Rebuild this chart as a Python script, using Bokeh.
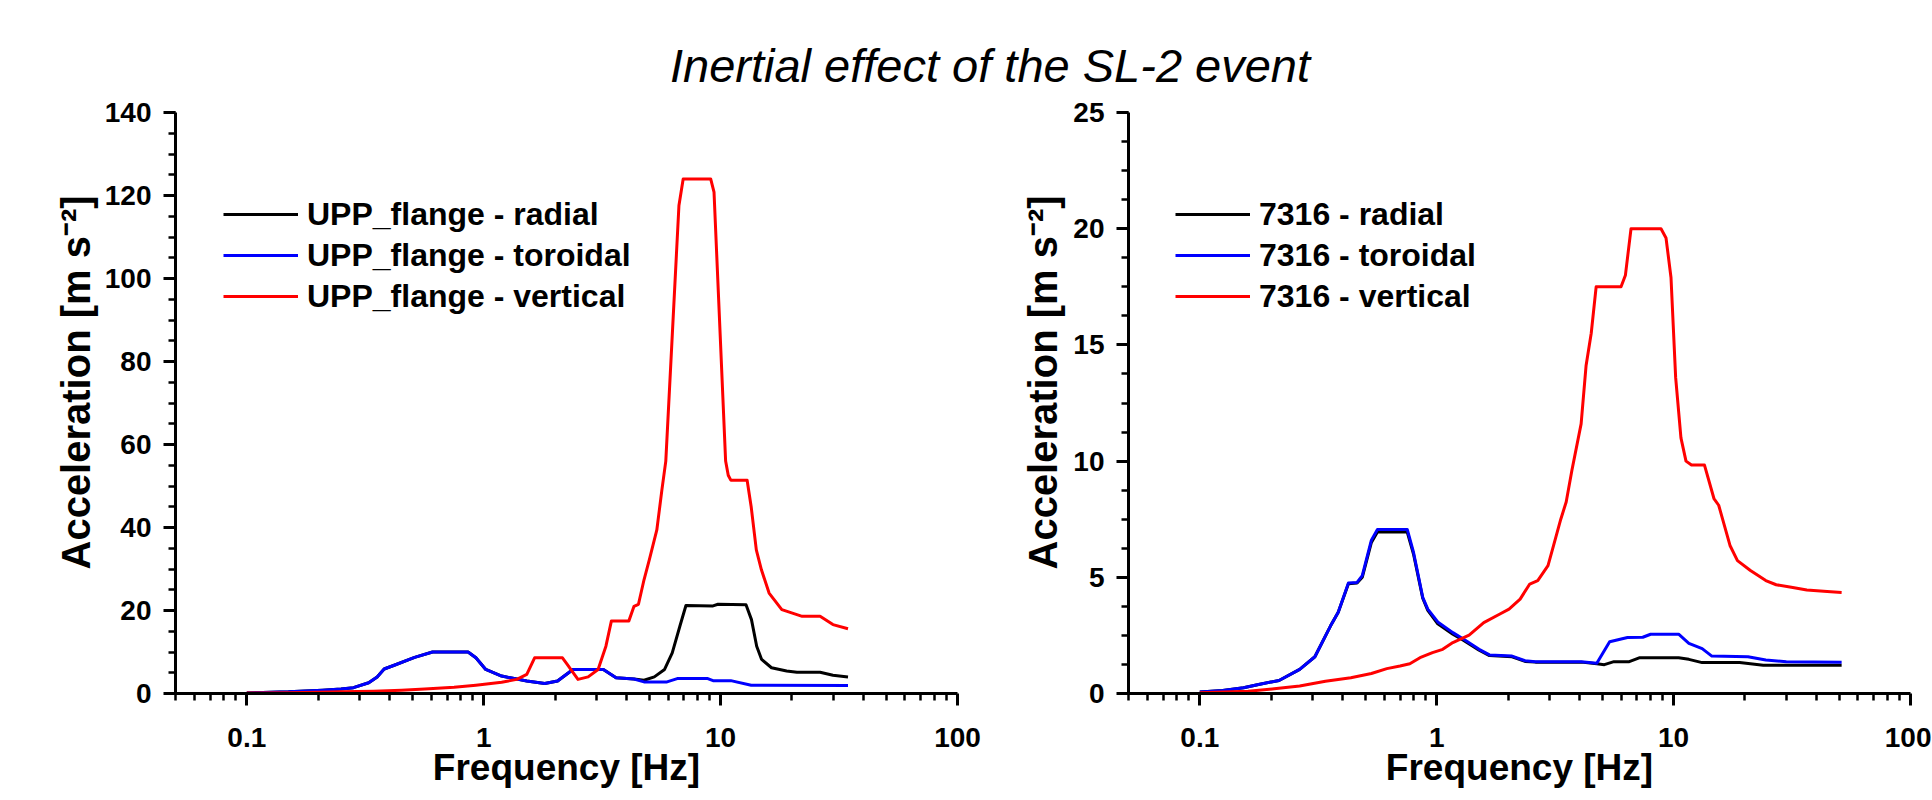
from bokeh.plotting import figure
from bokeh.models import (FixedTicker, Range1d, Legend, LegendItem, Title,
                          CustomJSTickFormatter)
from bokeh.layouts import column, row
from bokeh.embed import file_html
from bokeh.resources import INLINE

FONT = "Liberation Sans"

TITLE = "Inertial effect of the SL-2 event"
X_LABEL = "Frequency [Hz]"
Y_LABEL = "Acceleration [m s\u207b\u00b2]"

# ---------------- axis ticks ----------------
x_major = [0.1, 1, 10, 100]
x_minor = [0.05, 0.06, 0.07, 0.08, 0.09,
           0.2, 0.3, 0.4, 0.5, 0.6, 0.7, 0.8, 0.9,
           2, 3, 4, 5, 6, 7, 8, 9,
           20, 30, 40, 50, 60, 70, 80, 90]
left_y_major = [0, 20, 40, 60, 80, 100, 120, 140]
left_y_minor = [0, 5, 10, 15, 20, 25, 30, 35, 40, 45, 50, 55, 60, 65, 70, 75,
                80, 85, 90, 95, 100, 105, 110, 115, 120, 125, 130, 135, 140]
right_y_major = [0, 5, 10, 15, 20, 25]
right_y_minor = [0, 1.25, 2.5, 3.75, 5, 6.25, 7.5, 8.75, 10, 11.25, 12.5, 13.75,
                 15, 16.25, 17.5, 18.75, 20, 21.25, 22.5, 23.75, 25]

# ---------------- left panel: UPP_flange ----------------
left_names = ["UPP_flange - radial", "UPP_flange - toroidal", "UPP_flange - vertical"]

left_rad_f = [0.1, 0.15, 0.209, 0.25, 0.282, 0.327, 0.355, 0.38, 0.419, 0.511, 0.608,
              0.859, 0.927, 1.02, 1.19, 1.52, 1.81, 2.05, 2.38, 3.2, 3.62, 4.31, 4.75,
              5.25, 5.8, 6.25, 6.73, 7.14, 9.29, 9.75, 12.8, 13.5, 14.2, 14.9, 16.4,
              19.0, 21.0, 26.3, 29.8, 34.5]
left_rad_v = [0.15, 0.4, 0.8, 1.1, 1.4, 2.6, 4.0, 5.9, 6.8, 8.7, 10.0,
              10.0, 8.6, 5.8, 4.2, 3.0, 2.4, 3.0, 5.8, 5.8, 3.8, 3.5, 3.2,
              4.0, 5.8, 9.8, 16.2, 21.2, 21.1, 21.5, 21.4, 17.8, 11.4, 8.2, 6.2,
              5.4, 5.1, 5.1, 4.4, 4.0]

left_tor_f = [0.1, 0.15, 0.209, 0.25, 0.282, 0.327, 0.355, 0.38, 0.419, 0.511, 0.608,
              0.859, 0.927, 1.02, 1.19, 1.52, 1.81, 2.05, 2.38, 3.2, 3.62, 4.31, 4.75,
              5.94, 6.56, 8.83, 9.29, 11.04, 13.46, 34.5]
left_tor_v = [0.15, 0.4, 0.8, 1.1, 1.4, 2.6, 4.0, 5.9, 6.8, 8.7, 10.0,
              10.0, 8.6, 5.8, 4.2, 3.0, 2.4, 3.0, 5.8, 5.8, 3.8, 3.5, 2.8,
              2.8, 3.6, 3.6, 3.1, 3.1, 2.0, 1.9]

left_ver_f = [0.1, 0.15, 0.2, 0.25, 0.343, 0.45, 0.564, 0.75, 0.927, 1.19, 1.38, 1.52,
              1.64, 2.15, 2.24, 2.5, 2.76, 3.04, 3.28, 3.46, 4.10, 4.31, 4.5, 4.75,
              5.0, 5.38, 5.65, 5.87, 6.67, 6.95, 9.08, 9.38, 10.5, 10.77, 11.04,
              12.94, 13.46, 14.15, 14.87, 16.02, 18.13, 22.1, 26.3, 29.8, 34.5]
left_ver_v = [0.1, 0.2, 0.3, 0.4, 0.56, 0.8, 1.1, 1.5, 2.0, 2.7, 3.4, 4.6,
              8.6, 8.6, 7.2, 3.4, 4.0, 5.8, 11.4, 17.5, 17.5, 21.0, 21.5, 27.4,
              32.2, 39.4, 49.0, 56.0, 117.6, 124.0, 124.0, 120.8, 56.0, 52.6, 51.4,
              51.4, 45.0, 34.6, 29.8, 24.2, 20.2, 18.6, 18.6, 16.6, 15.6]

# ---------------- right panel: 7316 ----------------
right_names = ["7316 - radial", "7316 - toroidal", "7316 - vertical"]

right_rad_f = [0.1, 0.125, 0.153, 0.177, 0.216, 0.264, 0.306, 0.356, 0.384, 0.424,
               0.461, 0.485, 0.530, 0.562, 0.751, 0.798, 0.873, 0.917, 1.01, 1.17,
               1.30, 1.51, 1.67, 2.08, 2.36, 2.61, 4.08, 4.74, 5.1, 5.6, 6.5, 7.2,
               10.5, 11.6, 13.2, 19.0, 23.9, 51.2]
right_rad_v = [0.07, 0.13, 0.25, 0.39, 0.56, 1.04, 1.58, 2.9, 3.5, 4.72,
               4.75, 5.0, 6.5, 6.95, 6.95, 6.0, 4.1, 3.58, 3.0, 2.55,
               2.28, 1.86, 1.63, 1.58, 1.38, 1.35, 1.35, 1.28, 1.24, 1.37, 1.37, 1.54,
               1.54, 1.47, 1.33, 1.33, 1.22, 1.22]

right_tor_f = [0.1, 0.125, 0.153, 0.177, 0.216, 0.264, 0.306, 0.356, 0.384, 0.424,
               0.461, 0.485, 0.530, 0.562, 0.751, 0.798, 0.873, 0.917, 1.01, 1.17,
               1.30, 1.51, 1.67, 2.08, 2.36, 2.61, 4.08, 4.74, 5.37, 6.39, 7.41, 8.0,
               10.5, 11.6, 13.2, 14.5, 20.6, 24.5, 29.9, 51.2]
right_tor_v = [0.07, 0.13, 0.25, 0.39, 0.56, 1.04, 1.58, 2.9, 3.5, 4.75,
               4.78, 5.07, 6.6, 7.06, 7.06, 6.08, 4.14, 3.63, 3.08, 2.62,
               2.33, 1.9, 1.66, 1.61, 1.41, 1.37, 1.37, 1.30, 2.23, 2.41, 2.42, 2.55,
               2.55, 2.16, 1.93, 1.61, 1.58, 1.44, 1.37, 1.34]

right_ver_f = [0.1, 0.16, 0.206, 0.264, 0.339, 0.434, 0.53, 0.616, 0.70, 0.77, 0.85,
               0.96, 1.06, 1.17, 1.37, 1.58, 1.84, 2.02, 2.25, 2.47, 2.67, 2.95, 3.1,
               3.34, 3.52, 3.72, 4.07, 4.27, 4.49, 4.71, 6.0, 6.26, 6.61, 8.85, 9.29,
               9.75, 10.2, 10.74, 11.28, 11.9, 13.5, 14.8, 15.5, 17.3, 18.6, 21.1,
               24.5, 27.1, 31.4, 36.5, 44.5, 51.2]
right_ver_v = [0.03, 0.1, 0.2, 0.32, 0.53, 0.68, 0.86, 1.07, 1.18, 1.28, 1.54,
               1.76, 1.90, 2.19, 2.51, 3.05, 3.41, 3.63, 4.06, 4.71, 4.86, 5.5, 6.3,
               7.5, 8.24, 9.6, 11.6, 14.1, 15.5, 17.5, 17.5, 18.0, 20.0, 20.0, 19.6,
               17.9, 13.6, 11.0, 10.0, 9.83, 9.83, 8.39, 8.1, 6.37, 5.72, 5.29,
               4.86, 4.68, 4.57, 4.45, 4.39, 4.35]

COLORS = ["#000000", "#0000ff", "#ff0000"]


def make_panel(series, names, y_max, y_major, y_minor, width, border_left,
               border_right, ylab_standoff, legend_x):
    p = figure(width=width, height=707, x_axis_type="log",
               x_range=Range1d(0.05, 100), y_range=Range1d(0, y_max),
               min_border_left=border_left, min_border_right=border_right,
               min_border_top=19, min_border_bottom=107,
               output_backend="svg", toolbar_location=None)
    p.outline_line_color = None
    p.xgrid.visible = False
    p.ygrid.visible = False

    renderers = []
    for (fx, vy), c in zip(series, COLORS):
        r = p.line(fx, vy, line_color=c, line_width=3, line_join="round")
        renderers.append(r)

    for ax in (p.xaxis[0], p.yaxis[0]):
        ax.axis_line_width = 3
        ax.axis_line_color = "black"
        ax.major_tick_line_width = 3
        ax.major_tick_line_color = "black"
        ax.minor_tick_line_width = 2.5
        ax.minor_tick_line_color = "black"
        ax.major_tick_in = 0
        ax.major_tick_out = 12
        ax.minor_tick_in = 0
        ax.minor_tick_out = 7
        ax.major_label_text_font = FONT
        ax.major_label_text_font_style = "bold"
        ax.major_label_text_font_size = "28px"
        ax.major_label_text_color = "black"
        ax.major_label_standoff = 12

    p.xaxis[0].ticker = FixedTicker(ticks=x_major, minor_ticks=x_minor)
    p.xaxis[0].formatter = CustomJSTickFormatter(code="return tick.toString()")
    p.yaxis[0].ticker = FixedTicker(ticks=y_major, minor_ticks=y_minor)

    xa = p.xaxis[0]
    xa.major_label_standoff = 22
    xa.axis_label = X_LABEL
    xa.axis_label_text_font = FONT
    xa.axis_label_text_font_style = "bold"
    xa.axis_label_text_font_size = "37px"
    xa.axis_label_text_color = "black"
    xa.axis_label_standoff = -3

    ytitle = Title(text=Y_LABEL, align="left", offset=124, standoff=ylab_standoff,
                   text_font=FONT, text_font_style="bold", text_font_size="40px",
                   text_color="black")
    p.add_layout(ytitle, "left")

    legend = Legend(items=[LegendItem(label=n, renderers=[r]) for n, r in zip(names, renderers)],
                    location=(legend_x, 378), label_text_font=FONT,
                    label_text_font_style="bold", label_text_font_size="32px",
                    label_text_color="black",
                    glyph_width=75, glyph_height=38, label_height=38, spacing=3,
                    padding=0, label_standoff=9, border_line_color=None,
                    background_fill_alpha=0)
    p.add_layout(legend)
    return p


p1 = make_panel([(left_rad_f, left_rad_v), (left_tor_f, left_tor_v), (left_ver_f, left_ver_v)],
                left_names, 140, left_y_major, left_y_minor,
                width=1000, border_left=175, border_right=43, ylab_standoff=7, legend_x=48)
p2 = make_panel([(right_rad_f, right_rad_v), (right_tor_f, right_tor_v), (right_ver_f, right_ver_v)],
                right_names, 25, right_y_major, right_y_minor,
                width=931, border_left=128, border_right=21, ylab_standoff=11, legend_x=47)

# title strip
p0 = figure(width=1931, height=93, title=TITLE, x_range=Range1d(0, 1), y_range=Range1d(0, 1),
            x_axis_location=None, y_axis_location=None,
            min_border_left=48, min_border_right=0, min_border_bottom=0, min_border_top=91,
            output_backend="svg", toolbar_location=None)
p0.outline_line_color = None
p0.xgrid.visible = False
p0.ygrid.visible = False
p0.title.align = "center"
p0.title.standoff = 0
p0.title.text_font = FONT
p0.title.text_font_style = "italic"
p0.title.text_font_size = "47px"
p0.title.text_color = "black"

layout = column(p0, row(p1, p2))
open("out.html", "w").write(file_html(layout, INLINE))
